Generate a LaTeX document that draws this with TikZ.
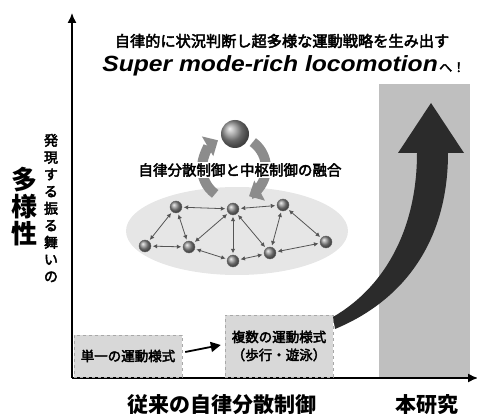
\documentclass[tikz,border=0pt]{standalone}
\usepackage{fontspec}
\usepackage{graphicx}
\setmainfont{Liberation Sans}
\newfontfamily\jp[FakeBold=3]{Noto Sans CJK JP}
\newfontfamily\jpb{Noto Sans CJK JP}
\usetikzlibrary{arrows.meta,shapes.geometric}
\definecolor{boxfill}{HTML}{D8D8D8}
\definecolor{boxline}{HTML}{A8A8A8}
\definecolor{studyfill}{HTML}{BFBFBF}
\definecolor{bigarrow}{HTML}{2B2B2B}
\definecolor{cyclegray}{HTML}{8C8C8C}
\definecolor{cloud}{HTML}{E6E6E6}
\definecolor{linkgray}{HTML}{555555}
\begin{document}
\begin{tikzpicture}[x=1pt,y=-1pt,
  axis/.style={line width=1.4pt,-{Latex[length=10pt,width=9pt]}},
  modebox/.style={draw=boxline,dashed,fill=boxfill,minimum width=108pt,inner sep=0pt,align=center,
    font=\jp\fontsize{13.5}{18}\selectfont},
  unit/.style={circle,draw=black!60,line width=0.4pt,minimum size=12pt,inner sep=0pt,shading=ball,ball color=gray!90},
  hub/.style={circle,minimum size=28pt,inner sep=0pt,shading=ball,ball color=gray!85},
  link/.style={linkgray,line width=0.8pt,{Latex[length=4.5pt,width=4.5pt]}-{Latex[length=4.5pt,width=4.5pt]},shorten <=1.5pt,shorten >=1.5pt},
  cycle/.style={cyclegray,line width=10pt,-{Triangle[length=12pt,width=22pt]}},
  ylabel/.style={align=center,inner sep=0pt},
  caption/.style={inner sep=0pt,font=\jpb\bfseries\fontsize{21}{24}\selectfont}]
\useasboundingbox (0,0) rectangle (477,414);

% column of the present work
\fill[studyfill] (379,84) rectangle (470,378);

% headline
\node[inner sep=0pt,font=\jp\fontsize{15.2}{18}\selectfont] (head) at (282,41) {自律的に状況判断し超多様な運動戦略を生み出す};
\node[inner sep=0pt,anchor=base east] (smr) at (438,72) {\scalebox{1.12}[1]{\fontsize{22}{26}\selectfont\bfseries\itshape Super mode-rich locomotion}};
\node[inner sep=0pt,anchor=base west] (he) at ([xshift=1pt]smr.base east) {\jp\fontsize{13}{15}\selectfont へ！};

% axes
\coordinate (O) at (72,378);
\coordinate (ytop) at (72,13);
\coordinate (xend) at (478,378);
\draw[axis] (O) -- (ytop);
\draw[axis] (O) -- (xend);

% vertical axis label
\node[ylabel,font=\jp\fontsize{14}{17}\selectfont] (ysub) at (51,208) {発\\現\\す\\る\\振\\る\\舞\\い\\の};
\node[ylabel,font=\jpb\bfseries\fontsize{26}{27}\selectfont] (ymain) at (25,207) {多\\様\\性};

% distributed network with a central controller
\fill[cloud] (237,231) ellipse [x radius=111pt, y radius=44pt];
\node[unit] (n1) at (176,207) {};
\node[unit] (n2) at (233,209) {};
\node[unit] (n3) at (283,205) {};
\node[unit] (n4) at (145,246) {};
\node[unit] (n5) at (189,247) {};
\node[unit] (n6) at (233,261) {};
\node[unit] (n7) at (270,253) {};
\node[unit] (n8) at (326,242) {};
\foreach \a/\b in {n1/n2,n2/n3,n1/n4,n1/n5,n4/n5,n2/n5,n2/n6,n2/n7,n5/n6,n6/n7,n3/n7,n3/n8,n7/n8}
  \draw[link] (\a) -- (\b);

\coordinate (C) at (234,168);
\draw[cycle] ([shift={(234:32pt)}]C) arc[start angle=234, end angle=120, radius=32pt];
\draw[cycle] ([shift={(54:32pt)}]C) arc[start angle=54, end angle=-62, radius=32pt];
\node[hub] (center) at (235,134) {};
\node[fill=white,inner sep=1pt,font=\jp\fontsize{14.5}{16}\selectfont] (fusion) at (240,170) {自律分散制御と中枢制御の融合};

% conventional locomotion modes
\node[modebox,minimum height=42pt] (single) at (128,356) {単一の運動様式};
\node[modebox,minimum height=62pt] (multi) at (279,346) {複数の運動様式\\（歩行・遊泳）};
\draw[line width=1.8pt,-{Triangle[length=10pt,width=10pt]}] ([xshift=3pt,yshift=4pt]single.east) -- ([xshift=-4pt,yshift=1pt]multi.west);

% rising arrow towards super mode-rich locomotion
\fill[bigarrow] (333,317) .. controls (388,285) and (417,225) .. (417,153)
  -- (398,153) -- (431,103) -- (464,153) -- (448,153)
  .. controls (448,240) and (405,300) .. (335,329) -- cycle;

% horizontal axis captions
\node[caption] (conv) at (222,405) {従来の自律分散制御};
\node[caption] (ours) at (427,405) {本研究};
\end{tikzpicture}
\end{document}
